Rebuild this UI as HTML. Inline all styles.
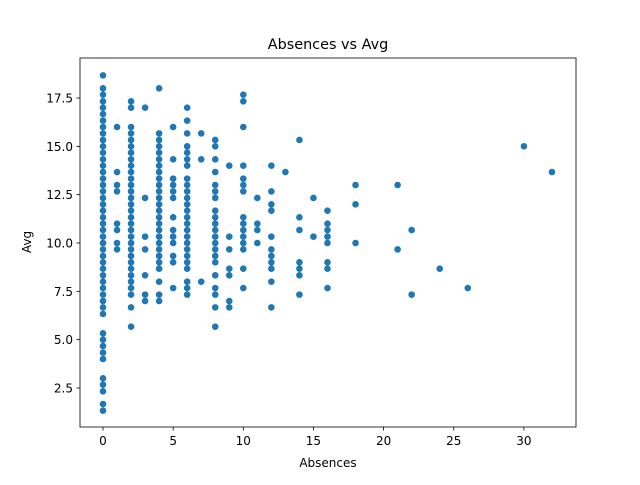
<!DOCTYPE html>
<html><head><meta charset="utf-8"><style>
body{margin:0;background:#fff;font-family:"Liberation Sans",sans-serif}
svg text{font-family:"DejaVu Sans","Liberation Sans",sans-serif;font-size:12px;fill:#000}
</style></head><body>
<svg id="chart" width="640" height="480" xmlns="http://www.w3.org/2000/svg">
<rect width="640" height="480" fill="#fff"/>
<text x="328" y="49" text-anchor="middle" style="font-size:14.4px">Absences vs Avg</text>
<g id="pts"></g>
<rect x="80" y="58" width="496" height="369" fill="none" stroke="#000" stroke-width="0.8"/>
<g id="ax"></g>
<text x="328" y="467" text-anchor="middle">Absences</text>
<text transform="translate(31,242) rotate(-90)" text-anchor="middle">Avg</text>
</svg>
<script>
const xTicks=[0,5,10,15,20,25,30];
const yTicks=[2.5,5.0,7.5,10.0,12.5,15.0,17.5];
const absences=[0,1,2,3,4,5,6,7,8,9,10,11,12,13,14,15,16,18,21,22,24,26,30,32];
const avgByAbsence=[
[1.33,1.67,2.33,2.67,3,4,4.33,4.67,5,5.33,6.33,6.67,7,7.33,7.67,8,8.33,8.67,9,9.33,9.67,10,10.33,10.67,11,11.33,11.67,12,12.33,12.67,13,13.33,13.67,14,14.33,14.67,15,15.33,15.67,16,16.33,16.67,17,17.33,17.67,18,18.67],
[9.67,10,10.67,11,12.67,13,13.67,16],
[5.67,6.67,7.33,7.67,8,8.33,8.67,9,9.33,9.67,10,10.33,10.67,11,11.33,11.67,12,12.33,12.67,13,13.33,13.67,14,14.33,14.67,15,15.33,15.67,16,17,17.33],
[7,7.33,8.33,9.67,10.33,12.33,17],
[7,7.33,8,8.67,9,9.33,9.67,10,10.33,10.67,11,11.33,11.67,12,12.33,12.67,13,13.33,13.67,14,14.33,14.67,15,15.33,15.67,18],
[7.67,9,9.33,10,10.33,10.67,11.33,12.33,12.67,13,13.33,14.33,16],
[7.33,7.67,8,8.67,9,9.33,9.67,10,10.33,10.67,11,11.33,11.67,12,12.33,12.67,13,13.33,14,14.33,14.67,15,15.67,16.33,17],
[8,14.33,15.67],
[5.67,6.67,7.33,7.67,8.33,9,9.33,9.67,10,10.33,10.67,11,11.33,11.67,12.33,12.67,13,13.67,14.33,15,15.33],
[6.67,7,8.33,8.67,9.67,10.33,14],
[7.67,8.67,9.67,10,10.33,10.67,11,11.33,12.67,13,13.33,14,16,17.33,17.67],
[10,10.67,11,12.33],
[6.67,8,8.67,9,9.33,9.67,10.33,11.67,12,12.67,14],
[13.67],
[7.33,8.33,8.67,9,10.67,11.33,15.33],
[10.33,12.33],
[7.67,8.67,9,10,10.33,10.67,11,11.67],
[10,12,13],
[9.67,13],
[7.33,10.67],
[8.67],
[7.67],
[15],
[13.67]
];
const NS="http://www.w3.org/2000/svg";
const sx=v=>103+v*14.03;
const sy=v=>388-(v-2.5)*19.333;
const pts=document.getElementById('pts'),ax=document.getElementById('ax');
absences.forEach((a,i)=>{avgByAbsence[i].forEach(v=>{
 const c=document.createElementNS(NS,'circle');
 
 
 c.setAttribute('cx',sx(a));c.setAttribute('cy',sy(v));c.setAttribute('r',3.3);c.setAttribute('fill','#1f77b4');
 pts.appendChild(c);});});
xTicks.forEach(t=>{
 const l=document.createElementNS(NS,'line');
 
 
 l.setAttribute('x1',sx(t));l.setAttribute('x2',sx(t));l.setAttribute('y1',427);l.setAttribute('y2',430.5);l.setAttribute('stroke','#000');l.setAttribute('stroke-width','0.8');ax.appendChild(l);
 const tx=document.createElementNS(NS,'text');
 
 
 tx.setAttribute('x',sx(t));tx.setAttribute('y',445);tx.setAttribute('text-anchor','middle');tx.textContent=t;ax.appendChild(tx);});
yTicks.forEach(t=>{
 const l=document.createElementNS(NS,'line');
 
 
 l.setAttribute('x1',76.5);l.setAttribute('x2',80);l.setAttribute('y1',sy(t));l.setAttribute('y2',sy(t));l.setAttribute('stroke','#000');l.setAttribute('stroke-width','0.8');ax.appendChild(l);
 const tx=document.createElementNS(NS,'text');
 
 
 tx.setAttribute('x',73);tx.setAttribute('y',sy(t)+4.5);tx.setAttribute('text-anchor','end');tx.textContent=t.toFixed(1);ax.appendChild(tx);});
</script>
</body></html>
